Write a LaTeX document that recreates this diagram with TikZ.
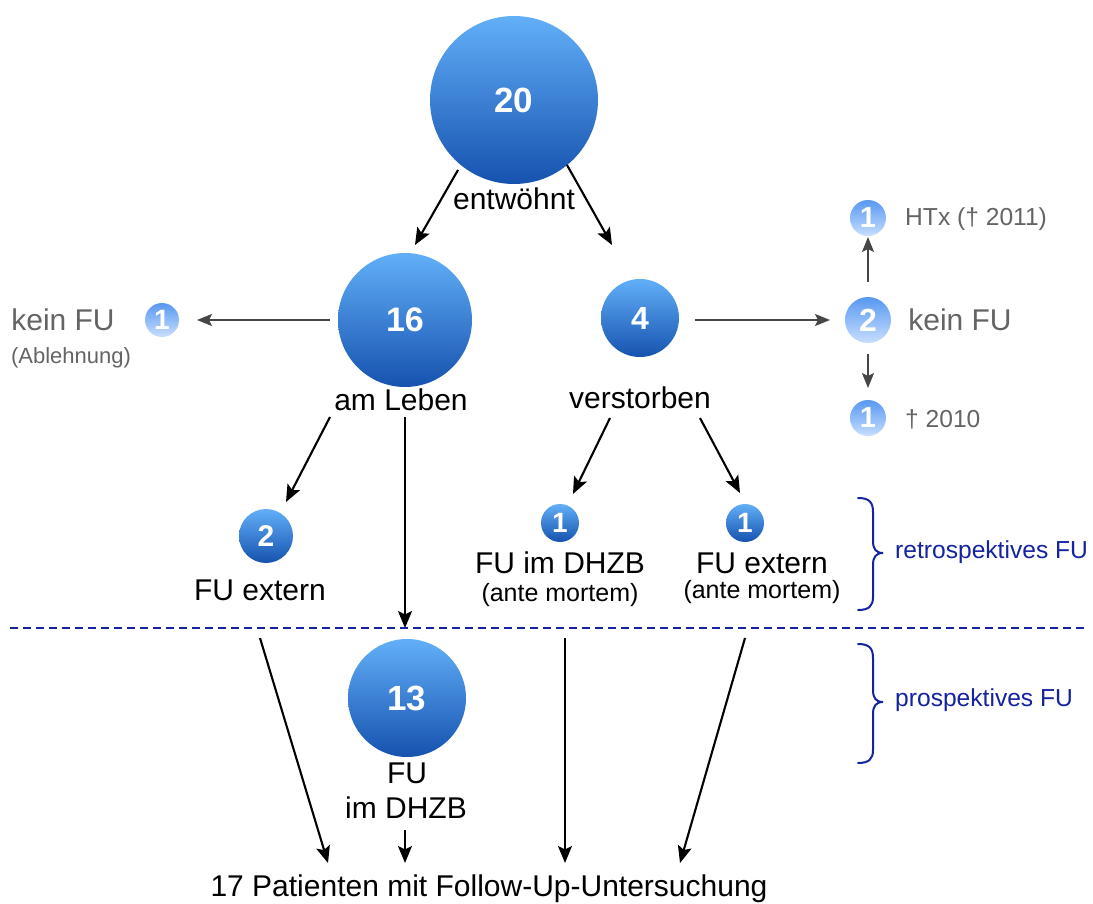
\documentclass[tikz,border=0pt]{standalone}
\usepackage{fontspec}
\setmainfont{Liberation Sans}
\usetikzlibrary{arrows.meta,calc}
\definecolor{balltop}{RGB}{98,175,248}
\definecolor{ballbot}{RGB}{22,82,175}
\definecolor{lighttop}{RGB}{88,152,240}
\definecolor{lightbot}{RGB}{200,222,255}
\definecolor{graytxt}{RGB}{100,100,100}
\definecolor{arrgray}{RGB}{70,70,70}
\definecolor{fublue}{RGB}{20,35,160}
\newcommand\myfs[1]{\fontsize{#1}{#1}\selectfont}
\begin{document}
\begin{tikzpicture}[x=1pt,y=-1pt,
  dball/.style={circle,inner sep=0pt,top color=balltop,bottom color=ballbot,text=white},
  lball/.style={circle,inner sep=0pt,top color=lighttop,bottom color=lightbot,text=white},
  lbl/.style={inner sep=0pt,font=\myfs{30}},
  glbl/.style={inner sep=0pt,font=\myfs{30},text=graytxt},
  slbl/.style={inner sep=0pt,font=\myfs{25}},
  arr/.style={-{Stealth[length=17pt,width=14pt,inset=3.5pt]},line width=2.1pt,black},
  garr/.style={-{Stealth[length=15pt,width=12pt,inset=3pt]},line width=1.9pt,arrgray},
  bracestyle/.style={line width=2pt,fublue,line cap=round},
  blbl/.style={inner sep=0pt,anchor=west,font=\myfs{24.6},text=fublue}
]
\useasboundingbox (0,0) rectangle (1093,904);

% main balls
\node[dball,minimum size=168pt,font=\myfs{35}\bfseries] (c20) at (514,100) {20};
\node[lbl] (lEntw) at (514,199) {entwöhnt};
\node[dball,minimum size=134pt,font=\myfs{34}\bfseries] (c16) at (405,320) {16};
\node[lbl] (lLeben) at (401,400) {am Leben};
\node[dball,minimum size=78pt,font=\myfs{32}\bfseries] (c4) at (640,318) {4};
\node[lbl] (lVerst) at (640,398) {verstorben};

% left: kein FU
\node[lball,minimum size=34pt,font=\myfs{28}\bfseries] (cL1) at (162,320) {1};
\node[glbl] (lKein1) at (63,320) {kein FU};
\node[inner sep=0pt,font=\myfs{22},text=graytxt] (lAbl) at (71,358) {(Ablehnung)};

% right: kein FU
\node[lball,minimum size=46pt,font=\myfs{32}\bfseries] (cR2) at (868,320) {2};
\node[glbl] (lKein2) at (960,320) {kein FU};
\node[lball,minimum size=36pt,font=\myfs{29}\bfseries] (cR1a) at (868,218) {1};
\node[inner sep=0pt,font=\myfs{24.6},text=graytxt,anchor=west] (lHTx) at (905,219) {HTx († 2011)};
\node[lball,minimum size=36pt,font=\myfs{29}\bfseries] (cR1b) at (868,418) {1};
\node[inner sep=0pt,font=\myfs{24.6},text=graytxt,anchor=west] (l2010) at (905,419) {† 2010};

% second row
\node[dball,minimum size=54pt,font=\myfs{30}\bfseries] (c2) at (266,536) {2};
\node[lbl] (lFUext) at (260,590) {FU extern};
\node[dball,minimum size=38pt,font=\myfs{28}\bfseries] (c1a) at (560,523) {1};
\node[lbl] (lFUdhzb) at (560,563) {FU im DHZB};
\node[slbl] (lAnte1) at (560,595) {(ante mortem)};
\node[dball,minimum size=38pt,font=\myfs{28}\bfseries] (c1b) at (745,523) {1};
\node[lbl] (lFUext2) at (762,563) {FU extern};
\node[slbl] (lAnte2) at (762,592) {(ante mortem)};

% prospective
\node[dball,minimum size=118pt,font=\myfs{35}\bfseries] (c13) at (407,698) {13};
\node[lbl] (lFU) at (407,773) {FU};
\node[lbl] (lImDHZB) at (406,808) {im DHZB};
\node[lbl] (lBottom) at (489,889) {17 Patienten mit Follow-Up-Untersuchung};

% arrows
\draw[arr] ($(c20)+(-56,70)$) -- ($(c16)+(10,-75)$);
\draw[arr] ($(c20)+(53,65)$) -- ($(c4)+(-28,-73)$);
\draw[garr] ($(c16)+(-75,0)$) -- ($(cL1)+(35,0)$);
\draw[garr] ($(c4)+(55,2)$) -- ($(cR2)+(-38,0)$);
\draw[garr] ($(cR2)+(0,-38)$) -- ($(cR1a)+(0,19)$);
\draw[garr] ($(cR2)+(0,34)$) -- ($(cR1b)+(0,-30)$);
\draw[arr] ($(lLeben)+(-71,17)$) -- ($(c2)+(20,-34)$);
\draw[arr] ($(lLeben)+(4,17)$) -- ($(c13)+(-2,-70)$);
\draw[arr] ($(lVerst)+(-30,20)$) -- ($(c1a)+(13,-29)$);
\draw[arr] ($(lVerst)+(60,20)$) -- ($(c1b)+(-5,-30)$);
\draw[arr] ($(lFUext)+(0,48)$) -- ($(lBottom)+(-161,-26)$);
\draw[arr] ($(lImDHZB)+(-1,22)$) -- ($(lBottom)+(-84,-26)$);
\draw[arr] ($(lAnte1)+(5,43)$) -- ($(lBottom)+(76,-26)$);
\draw[arr] ($(lAnte2)+(-17,46)$) -- ($(lBottom)+(191,-26)$);

% dashed separator
\coordinate (dl) at (10,628);
\coordinate (dr) at (1088,628);
\draw[fublue,line width=1.9pt,dash pattern=on 8pt off 5pt] (dl) -- (dr);

% braces
\draw[bracestyle] (858,498) .. controls (869,498) and (873,502) .. (873,512)
  -- (873,541) .. controls (873,549) and (876,553) .. (883,553)
  .. controls (876,553) and (873,557) .. (873,565)
  -- (873,597) .. controls (873,606) and (869,610) .. (858,610);
\draw[bracestyle] (858,644) .. controls (869,644) and (873,648) .. (873,658)
  -- (873,690) .. controls (873,698) and (876,702) .. (883,702)
  .. controls (876,702) and (873,706) .. (873,714)
  -- (873,750) .. controls (873,759) and (869,763) .. (858,763);
\node[blbl] (lRetro) at (895,552) {retrospektives FU};
\node[blbl] (lPro) at (895,700) {prospektives FU};
\end{tikzpicture}
\end{document}
